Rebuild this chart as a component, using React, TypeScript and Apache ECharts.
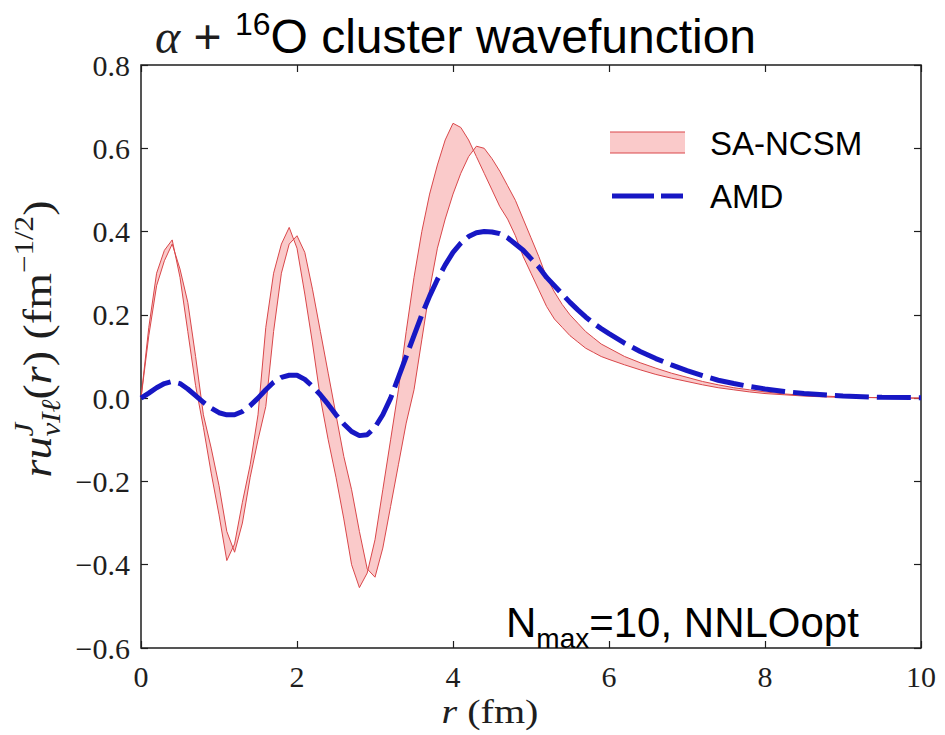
import React, { useEffect, useRef } from "react";
import * as echarts from "echarts";

// r grid (fm)
const R = [
  0, 0.1, 0.2, 0.3, 0.4, 0.5, 0.6, 0.7, 0.8, 0.9,
  1, 1.1, 1.2, 1.3, 1.4, 1.5, 1.6, 1.7, 1.8, 1.9,
  2, 2.1, 2.2, 2.3, 2.4, 2.5, 2.6, 2.7, 2.8, 2.9,
  3, 3.1, 3.2, 3.3, 3.4, 3.5, 3.6, 3.7, 3.8, 3.9,
  4, 4.1, 4.2, 4.3, 4.4, 4.5, 4.6, 4.7, 4.8, 4.9,
  5, 5.1, 5.2, 5.3, 5.4, 5.5, 5.6, 5.7, 5.8, 5.9,
  6, 6.2, 6.4, 6.6, 6.8, 7, 7.2, 7.4, 7.6, 7.8, 8, 8.25, 8.5, 8.75, 9, 9.5, 10,
];

// SA-NCSM band: first bounding curve (left-shifted, larger amplitude)
const SA_CURVE_1 = [
  0, 0.17, 0.3, 0.355, 0.38, 0.29, 0.16, 0.03, -0.07, -0.18,
  -0.28, -0.39, -0.35, -0.25, -0.16, -0.04, 0.17, 0.3, 0.37, 0.41,
  0.36, 0.25, 0.13, 0.0, -0.1, -0.19, -0.29, -0.4, -0.455, -0.42,
  -0.34, -0.22, -0.1, 0.02, 0.16, 0.29, 0.4, 0.49, 0.56, 0.62,
  0.66, 0.65, 0.62, 0.58, 0.54, 0.5, 0.46, 0.43, 0.39, 0.34,
  0.3, 0.26, 0.22, 0.19, 0.17, 0.15, 0.135, 0.12, 0.11, 0.1,
  0.093, 0.08, 0.068, 0.057, 0.048, 0.04, 0.032, 0.025, 0.02, 0.015, 0.011, 0.008, 0.005, 0.003, 0.002, 0.001, 0,
];

// SA-NCSM band: second bounding curve (right-shifted)
const SA_CURVE_2 = [
  0, 0.15, 0.27, 0.33, 0.37, 0.31, 0.23, 0.1, -0.04, -0.12,
  -0.21, -0.32, -0.37, -0.3, -0.19, -0.1, -0.02, 0.16, 0.3, 0.37,
  0.39, 0.35, 0.26, 0.16, 0.06, -0.04, -0.14, -0.22, -0.32, -0.41,
  -0.43, -0.36, -0.26, -0.16, -0.06, 0.02, 0.14, 0.26, 0.36, 0.43,
  0.49, 0.54, 0.58, 0.605, 0.6, 0.575, 0.545, 0.51, 0.475, 0.43,
  0.385, 0.34, 0.29, 0.255, 0.225, 0.2, 0.18, 0.16, 0.145, 0.13,
  0.12, 0.1, 0.085, 0.072, 0.06, 0.05, 0.04, 0.032, 0.025, 0.02, 0.015, 0.01, 0.007, 0.005, 0.003, 0.001, 0,
];

// AMD wavefunction
const AMD = [
  0, 0.012, 0.025, 0.035, 0.04, 0.035, 0.022, 0.006, -0.01, -0.024,
  -0.035, -0.04, -0.04, -0.032, -0.018, 0, 0.02, 0.038, 0.05, 0.055,
  0.055, 0.045, 0.028, 0.008, -0.015, -0.04, -0.062, -0.08, -0.09, -0.088,
  -0.07, -0.04, 0, 0.05, 0.1, 0.15, 0.2, 0.245, 0.285, 0.32,
  0.35, 0.372, 0.388, 0.397, 0.4, 0.399, 0.395, 0.385, 0.37, 0.355,
  0.335, 0.315, 0.29, 0.27, 0.25, 0.23, 0.212, 0.195, 0.18, 0.167,
  0.155, 0.132, 0.112, 0.095, 0.08, 0.066, 0.054, 0.043, 0.035, 0.028, 0.022, 0.016, 0.011, 0.008, 0.005, 0.002, 0.001,
];

const X_TICKS = [0, 2, 4, 6, 8, 10];
const Y_TICKS = [-0.6, -0.4, -0.2, 0.0, 0.2, 0.4, 0.6, 0.8];

const LEGEND_LABELS = ["SA-NCSM", "AMD"];
const TITLE_TEXT = ["α", " + ", "16", "O cluster wavefunction"];
const NOTE_TEXT = ["N", "max", "=10, NNLOopt"];

const SERIF = "'Liberation Serif', 'DejaVu Serif', serif";
const SANS = "'Liberation Sans', Arial, sans-serif";
const RED = "#d9474a";
const PINK = "rgba(246,150,150,0.5)";
const BLUE = "#1717c4";
const INK = "#1e1e1e";

let mctx: CanvasRenderingContext2D | null = null;
function measure(text: string, font: string): number {
  if (!mctx) mctx = document.createElement("canvas").getContext("2d");
  if (!mctx) return text.length * 10;
  mctx.font = font;
  return mctx.measureText(text).width;
}

type Piece = {
  text: string;
  size: number;
  family: string;
  italic?: boolean;
  dy?: number;
  noAdvance?: boolean;
  fill?: string;
};

function fontOf(p: Piece) {
  return `${p.italic ? "italic " : ""}${p.size}px ${p.family}`;
}

function seqWidth(pieces: Piece[]) {
  let w = 0;
  let pending = 0;
  pieces.forEach((p) => {
    const pw = measure(p.text, fontOf(p));
    if (p.noAdvance) {
      pending = Math.max(pending, pw);
    } else {
      w += Math.max(pw, pending);
      pending = 0;
    }
  });
  return w + pending;
}

function seqTexts(pieces: Piece[], startX: number, baseY: number) {
  const els: any[] = [];
  let x = startX;
  let pending = 0;
  pieces.forEach((p) => {
    const font = fontOf(p);
    const pw = measure(p.text, font);
    els.push({
      type: "text",
      x,
      y: baseY + (p.dy || 0) - 0.34 * p.size,
      silent: true,
      z: 100,
      style: {
        text: p.text,
        font,
        fill: p.fill || INK,
        align: "left",
        textAlign: "left",
        verticalAlign: "middle",
        textVerticalAlign: "middle",
      },
    });
    if (p.noAdvance) {
      pending = Math.max(pending, pw);
    } else {
      x += Math.max(pw, pending);
      pending = 0;
    }
  });
  return els;
}

function fmt(v: number) {
  return v.toFixed(1).replace("-", "\u2212");
}

export default function App() {
  const ref = useRef<HTMLDivElement>(null);

  useEffect(() => {
    if (!ref.current) return;
    const chart = echarts.init(ref.current, undefined, { renderer: "svg" });

    const curve1 = R.map((r, i) => [r, SA_CURVE_1[i]]);
    const curve2 = R.map((r, i) => [r, SA_CURVE_2[i]]);
    const amd = R.map((r, i) => [r, AMD[i]]);

    const xMin = X_TICKS[0];
    const xMax = X_TICKS[X_TICKS.length - 1];
    const xInt = X_TICKS[1] - X_TICKS[0];
    const yMin = Y_TICKS[0];
    const yMax = Y_TICKS[Y_TICKS.length - 1];
    const yInt = 0.2;

    const tick = { show: true, inside: true, length: 7, lineStyle: { color: INK, width: 1.2 } };

    // title
    const title = seqTexts(
      [
        { text: TITLE_TEXT[0], size: 48, family: SERIF, italic: true },
        { text: TITLE_TEXT[1], size: 48, family: SANS },
        { text: TITLE_TEXT[2], size: 32, family: SANS, dy: -18, fill: "#000" },
        { text: TITLE_TEXT[3], size: 48, family: SANS, fill: "#000" },
      ],
      155,
      53
    );

    // annotation
    const note = seqTexts(
      [
        { text: NOTE_TEXT[0], size: 42, family: SANS, fill: "#000" },
        { text: NOTE_TEXT[1], size: 28, family: SANS, dy: 11, fill: "#000" },
        { text: NOTE_TEXT[2], size: 42, family: SANS, fill: "#000" },
      ],
      506,
      637
    );

    // x axis title (slightly stretched to mimic Computer Modern width)
    const xtPieces: Piece[] = [
      { text: "r", size: 34, family: SERIF, italic: true },
      { text: " (fm)", size: 34, family: SERIF },
    ];
    const xtW = seqWidth(xtPieces);
    const xTitle = {
      type: "group",
      x: 490,
      y: 0,
      scaleX: 1.18,
      children: seqTexts(xtPieces, -xtW / 2, 723),
    };

    // y axis title (rotated)
    const ytPieces: Piece[] = [
      { text: "ru", size: 40, family: SERIF, italic: true },
      { text: "J", size: 27, family: SERIF, italic: true, dy: -18, noAdvance: true },
      { text: "νIℓ", size: 27, family: SERIF, italic: true, dy: 9 },
      { text: "(", size: 40, family: SERIF },
      { text: "r", size: 40, family: SERIF, italic: true },
      { text: ")", size: 40, family: SERIF },
      { text: " (fm", size: 40, family: SERIF },
      { text: "\u22121/2", size: 27, family: SERIF, dy: -18 },
      { text: ")", size: 40, family: SERIF },
    ];
    const ytW = seqWidth(ytPieces);
    const yTitle = {
      type: "group",
      x: 38,
      y: 339,
      rotation: Math.PI / 2,
      scaleX: 1.15,
      children: seqTexts(ytPieces, -ytW / 2, 13),
    };

    // legend
    const legend = [
      {
        type: "rect",
        shape: { x: 610, y: 132, width: 75, height: 21 },
        style: { fill: PINK, stroke: "none" },
        silent: true,
        z: 100,
      },
      { type: "line", z: 100, shape: { x1: 610, y1: 132, x2: 685, y2: 132 }, style: { stroke: RED, lineWidth: 1.2 }, silent: true },
      { type: "line", z: 100, shape: { x1: 610, y1: 153, x2: 685, y2: 153 }, style: { stroke: RED, lineWidth: 1.2 }, silent: true },
      {
        type: "line",
        z: 100,
        shape: { x1: 612, y1: 196, x2: 683, y2: 196 },
        style: { stroke: BLUE, lineWidth: 5, lineDash: [42, 7] },
        silent: true,
      },
      {
        type: "text",
        x: 710,
        y: 143,
        z: 100,
        silent: true,
        style: { text: LEGEND_LABELS[0], font: `33px ${SANS}`, fill: "#000", align: "left", textAlign: "left", verticalAlign: "middle", textVerticalAlign: "middle" },
      },
      {
        type: "text",
        x: 710,
        y: 196,
        z: 100,
        silent: true,
        style: { text: LEGEND_LABELS[1], font: `33px ${SANS}`, fill: "#000", align: "left", textAlign: "left", verticalAlign: "middle", textVerticalAlign: "middle" },
      },
    ];

    const axisBase = {
      type: "value",
      axisLine: { show: false, onZero: false },
      axisTick: tick,
      splitLine: { show: false },
    };

    const option: any = {
      animation: false,
      backgroundColor: "#ffffff",
      grid: {
        left: 141,
        right: 24,
        top: 65,
        bottom: 87,
        show: true,
        borderColor: INK,
        borderWidth: 1.5,
        backgroundColor: "transparent",
      },
      xAxis: [
        {
          ...axisBase,
          min: xMin,
          max: xMax,
          interval: xInt,
          position: "bottom",
          axisLabel: { margin: 13, fontFamily: SERIF, fontSize: 30, color: INK },
        },
        {
          ...axisBase,
          min: xMin,
          max: xMax,
          interval: xInt,
          position: "top",
          axisLabel: { show: false },
        },
      ],
      yAxis: [
        {
          ...axisBase,
          min: yMin,
          max: yMax,
          interval: yInt,
          position: "left",
          axisLabel: { margin: 11, fontFamily: SERIF, fontSize: 30, color: INK, formatter: fmt },
        },
        {
          ...axisBase,
          min: yMin,
          max: yMax,
          interval: yInt,
          position: "right",
          axisLabel: { show: false },
        },
      ],
      series: [
        {
          name: "SA-NCSM",
          type: "custom",
          coordinateSystem: "cartesian2d",
          data: [[0, 0]],
          silent: true,
          z: 1,
          renderItem: (_params: any, api: any) => {
            const pts: number[][] = [];
            for (let i = 0; i < R.length; i++) pts.push(api.coord([R[i], SA_CURVE_1[i]]));
            for (let i = R.length - 1; i >= 0; i--) pts.push(api.coord([R[i], SA_CURVE_2[i]]));
            return {
              type: "polygon",
              shape: { points: pts },
              style: { fill: PINK, stroke: "none" },
            };
          },
        },
        {
          name: "SA-NCSM curve 1",
          type: "line",
          data: curve1,
          symbol: "none",
          lineStyle: { color: RED, width: 1 },
          z: 3,
          silent: true,
        },
        {
          name: "SA-NCSM curve 2",
          type: "line",
          data: curve2,
          symbol: "none",
          lineStyle: { color: RED, width: 1 },
          z: 3,
          silent: true,
        },
        {
          name: "AMD",
          type: "line",
          data: amd,
          symbol: "none",
          lineStyle: { color: BLUE, width: 5, type: [34, 8] },
          z: 4,
          silent: true,
        },
      ],
      graphic: [...title, ...note, xTitle, yTitle, ...legend],
    };

    chart.setOption(option);
    return () => chart.dispose();
  }, []);

  return (
    <div
      ref={ref}
      style={{ position: "fixed", left: 0, top: 0, width: 945, height: 735, background: "#fff" }}
    />
  );
}
